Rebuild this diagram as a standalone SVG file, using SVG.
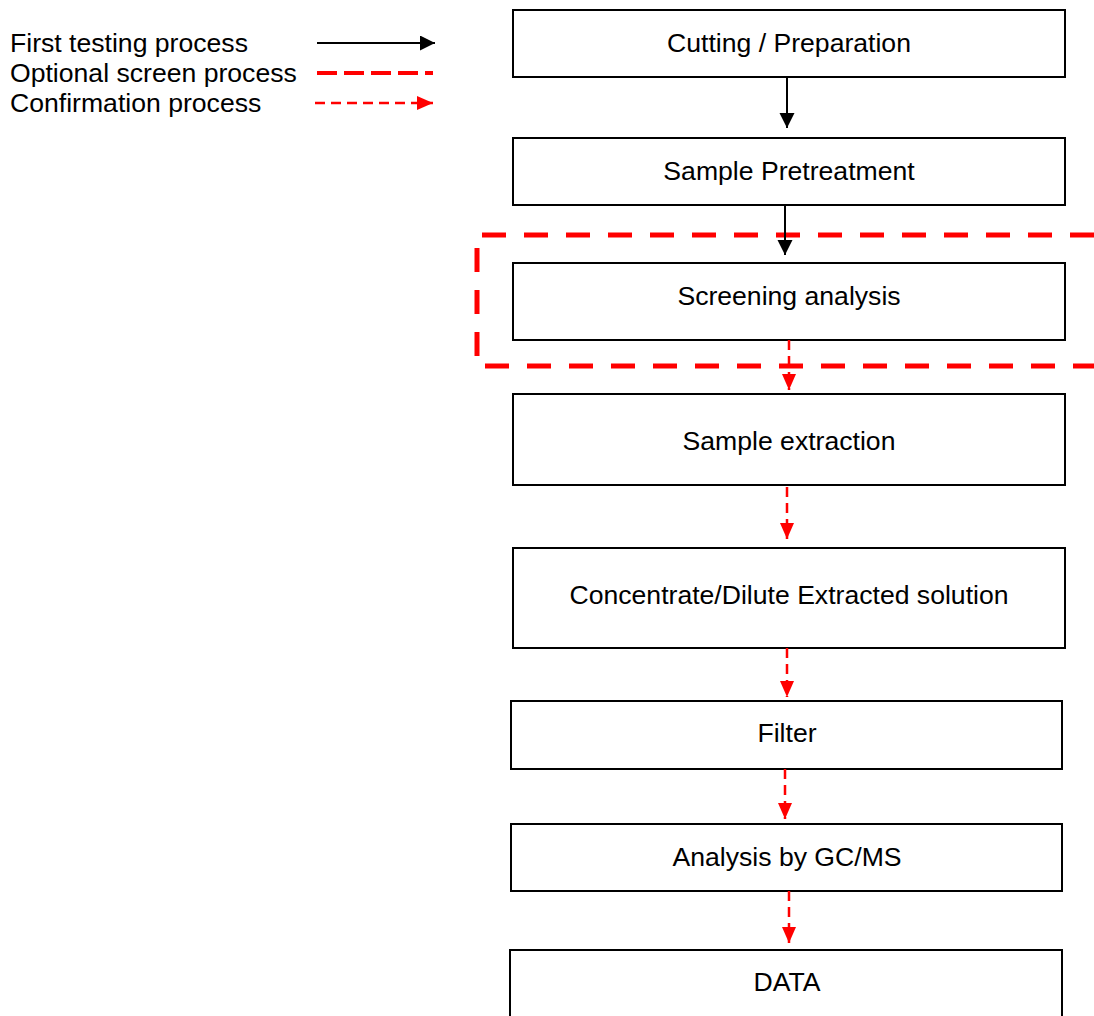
<svg xmlns="http://www.w3.org/2000/svg" width="1094" height="1016" viewBox="0 0 1094 1016">
<style>
  text { font-family: "Liberation Sans", Arial, sans-serif; font-size: 26.6px; fill: #000; }
  .box { fill: #fff; stroke: #000; stroke-width: 2; }
  .lbl { text-anchor: middle; }
  .solid { stroke: #000; stroke-width: 2; fill: none; }
  .conf { stroke: #FF0000; stroke-width: 2.5; stroke-dasharray: 10 6; fill: none; }
  .opt { stroke: #FF0000; stroke-width: 5; stroke-dasharray: 24 18; fill: none; }
</style>
<defs>
  <marker id="ab" markerUnits="userSpaceOnUse" markerWidth="16" markerHeight="16" refX="15" refY="7.5" orient="auto">
    <path d="M0,0 L15,7.5 L0,15 Z" fill="#000"/>
  </marker>
  <marker id="ar" markerUnits="userSpaceOnUse" markerWidth="16" markerHeight="16" refX="16" refY="7" orient="auto">
    <path d="M0,0 L16,7 L0,14 Z" fill="#FF0000"/>
  </marker>
</defs>
<rect width="1094" height="1016" fill="#fff"/>

<g id="legend">
  <text x="10" y="52">First testing process</text>
  <text x="10" y="82">Optional screen process</text>
  <text x="10" y="112">Confirmation process</text>
  <line x1="317" y1="43" x2="435" y2="43" class="solid" marker-end="url(#ab)"/>
  <line x1="317" y1="73" x2="433" y2="73" stroke="#FF0000" stroke-width="4" stroke-dasharray="20 7"/>
  <line x1="315" y1="103" x2="433" y2="103" class="conf" marker-end="url(#ar)"/>
</g>

<g id="optional-region">
  <path d="M1094,235 L477,235 L477,366 L1094,366" class="opt"/>
</g>

<g id="n1"><rect x="513" y="10" width="552" height="67" class="box"/><text x="789" y="52" class="lbl">Cutting / Preparation</text></g>
<g id="n2"><rect x="513" y="138" width="552" height="67" class="box"/><text x="789" y="180" class="lbl">Sample Pretreatment</text></g>
<g id="n3"><rect x="513" y="263" width="552" height="77" class="box"/><text x="789" y="305" class="lbl">Screening analysis</text></g>
<g id="n4"><rect x="513" y="394" width="552" height="91" class="box"/><text x="789" y="450" class="lbl">Sample extraction</text></g>
<g id="n5"><rect x="513" y="548" width="552" height="100" class="box"/><text x="789" y="604" class="lbl">Concentrate/Dilute Extracted solution</text></g>
<g id="n6"><rect x="511" y="701" width="551" height="68" class="box"/><text x="787" y="742" class="lbl">Filter</text></g>
<g id="n7"><rect x="511" y="824" width="551" height="67" class="box"/><text x="787" y="866" class="lbl">Analysis by GC/MS</text></g>
<g id="n8"><rect x="510" y="950" width="552" height="80" class="box"/><text x="787" y="991" class="lbl">DATA</text></g>

<g id="connectors">
  <line x1="787" y1="77" x2="787" y2="128" class="solid" marker-end="url(#ab)"/>
  <line x1="785" y1="205" x2="785" y2="255" class="solid" marker-end="url(#ab)"/>
  <line x1="789" y1="340" x2="789" y2="390" class="conf" marker-end="url(#ar)"/>
  <line x1="787" y1="487" x2="787" y2="539" class="conf" marker-end="url(#ar)"/>
  <line x1="787" y1="648" x2="787" y2="697" class="conf" marker-end="url(#ar)"/>
  <line x1="785" y1="769" x2="785" y2="819" class="conf" marker-end="url(#ar)"/>
  <line x1="789" y1="891" x2="789" y2="943" class="conf" marker-end="url(#ar)"/>
</g>
</svg>
